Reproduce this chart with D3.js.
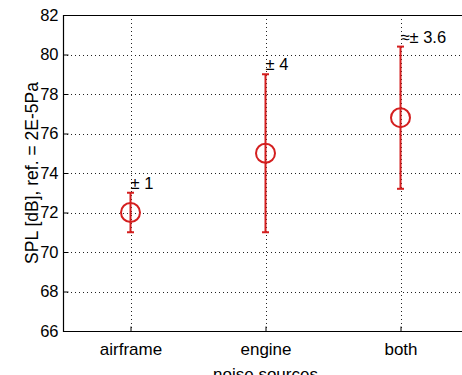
<!DOCTYPE html>
<html>
<head>
<meta charset="utf-8">
<script src="https://cdn.jsdelivr.net/npm/d3@7"></script>
<style>
  html, body { margin: 0; padding: 0; background: #fff; }
  svg { display: block; }
  text { font-family: "Liberation Sans", Arial, sans-serif; fill: #000; }
</style>
</head>
<body>
<script>
// Noise source categories and measured SPL with uncertainty
const categories = ["airframe", "engine", "both"];
const meanSPL = [72, 75, 76.8];
const uncertainty = [1, 4, 3.6];
const errorLabels = ["± 1", "± 4", "≈± 3.6"];
const yTicks = [66, 68, 70, 72, 74, 76, 78, 80, 82];

const W = 462, H = 375;
const margin = { left: 63, top: 15, bottom: 331, right: 468 };
const fs = 16.5;

const svg = d3.select("body").append("svg")
  .attr("width", W).attr("height", H);

const x = d3.scaleLinear().domain([0.5, 3.5]).range([margin.left, margin.right]);
const y = d3.scaleLinear().domain([66, 82]).range([margin.bottom, margin.top]);

const red = "#d41f1f";

// Grid lines (dotted)
const grid = svg.append("g");
grid.selectAll(".hg").data(yTicks.slice(1, -1)).join("line")
  .attr("x1", margin.left).attr("x2", margin.right)
  .attr("y1", d => Math.round(y(d)) + 0.5).attr("y2", d => Math.round(y(d)) + 0.5)
  .attr("stroke", "#222").attr("stroke-width", 1).attr("stroke-dasharray", "1,3");
grid.selectAll(".vg").data(categories).join("line")
  .attr("x1", (d, i) => Math.round(x(i + 1)) + 0.5).attr("x2", (d, i) => Math.round(x(i + 1)) + 0.5)
  .attr("y1", margin.top).attr("y2", margin.bottom)
  .attr("stroke", "#222").attr("stroke-width", 1).attr("stroke-dasharray", "1,3");

// Axes
const yAxis = d3.axisLeft(y).tickValues(yTicks).tickSize(-5).tickPadding(5);
const gy = svg.append("g").attr("transform", `translate(${margin.left + 0.5},0)`).call(yAxis);
gy.select(".domain").remove();
gy.selectAll(".tick line").attr("stroke", "#000");
gy.selectAll("text").attr("font-size", fs).attr("fill", "#000").attr("font-family", null);

const xAxis = d3.axisBottom(x).tickValues([1, 2, 3])
  .tickFormat((d, i) => categories[i]).tickSize(-5).tickPadding(11);
const gx = svg.append("g").attr("transform", `translate(0,${margin.bottom + 0.5})`).call(xAxis);
gx.select(".domain").remove();
gx.selectAll(".tick line").attr("stroke", "#000");
gx.selectAll("text").attr("font-size", 17).attr("fill", "#000");

// Box
svg.append("path")
  .attr("d", `M${margin.right},${margin.top + 0.5}H${margin.left + 0.5}V${margin.bottom + 0.5}H${margin.right}`)
  .attr("fill", "none").attr("stroke", "#000").attr("stroke-width", 1.2);

// Axis titles
svg.append("text")
  .attr("transform", `translate(38,${(margin.top + margin.bottom) / 2}) rotate(-90)`)
  .attr("text-anchor", "middle").attr("font-size", 17.5)
  .text("SPL [dB], ref. = 2E-5Pa");
svg.append("text")
  .attr("x", x(2)).attr("y", 380)
  .attr("text-anchor", "middle").attr("font-size", 17)
  .text("noise sources");

// Error bars
const pts = categories.map((c, i) => ({ i: i + 1, m: meanSPL[i], e: uncertainty[i], lab: errorLabels[i] }));
const eb = svg.append("g");
eb.selectAll(".stem").data(pts).join("line")
  .attr("x1", d => x(d.i)).attr("x2", d => x(d.i))
  .attr("y1", d => y(d.m - d.e)).attr("y2", d => y(d.m + d.e))
  .attr("stroke", red).attr("stroke-width", 2);
eb.selectAll(".capT").data(pts).join("line")
  .attr("x1", d => x(d.i) - 3.5).attr("x2", d => x(d.i) + 3.5)
  .attr("y1", d => y(d.m + d.e)).attr("y2", d => y(d.m + d.e))
  .attr("stroke", red).attr("stroke-width", 2);
eb.selectAll(".capB").data(pts).join("line")
  .attr("x1", d => x(d.i) - 3.5).attr("x2", d => x(d.i) + 3.5)
  .attr("y1", d => y(d.m - d.e)).attr("y2", d => y(d.m - d.e))
  .attr("stroke", red).attr("stroke-width", 2);
eb.selectAll("circle").data(pts).join("circle")
  .attr("cx", d => x(d.i)).attr("cy", d => y(d.m)).attr("r", 9.5)
  .attr("fill", "none").attr("stroke", red).attr("stroke-width", 2);

// Uncertainty annotations
svg.selectAll(".ann").data(pts).join("text")
  .attr("x", d => x(d.i)).attr("y", d => y(d.m + d.e) - 4)
  .attr("font-size", fs)
  .text(d => d.lab);
</script>
</body>
</html>
